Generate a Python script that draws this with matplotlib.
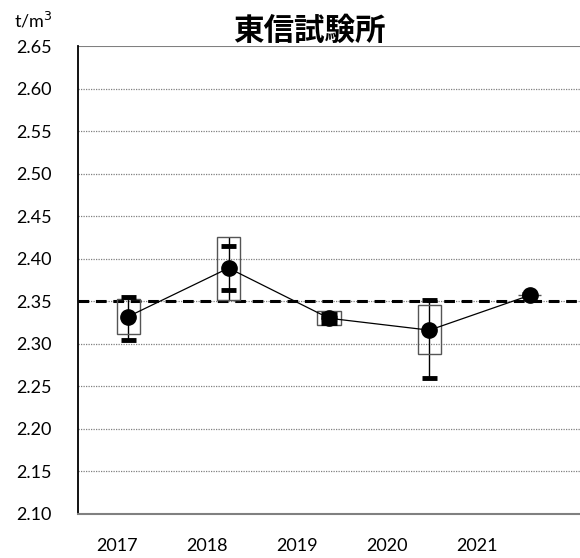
import matplotlib
matplotlib.use("Agg")
import matplotlib.pyplot as plt
import numpy as np

plt.rcParams['font.family'] = ['Lato', 'Noto Sans CJK JP', 'DejaVu Sans']

years = ['2017', '2018', '2019', '2020', '2021']
mean = [2.332, 2.389, 2.330, 2.316, 2.357]
box_hi = [2.353, 2.425, 2.338, 2.345, 2.357]
box_lo = [2.311, 2.352, 2.322, 2.288, 2.357]
cap_hi = [2.355, 2.415, 2.335, 2.351, 2.358]
cap_lo = [2.305, 2.363, 2.325, 2.260, 2.356]
reference = 2.35

fig = plt.figure(figsize=(5.8, 5.58), dpi=100)
ax = fig.add_axes([0.1345, 0.079, 0.8655, 0.8385])

x = np.arange(len(years))
ax.set_xlim(-0.5, len(years) - 0.5)
ax.set_ylim(2.10, 2.65)

# horizontal grid
for v in np.arange(2.15, 2.649, 0.05):
    ax.axhline(v, color='#808080', lw=0.9, ls=(0, (1, 1)), zorder=0)
ax.axhline(2.65, color='#808080', lw=1.5, zorder=0)

# reference line
ax.axhline(reference, color='black', lw=2.2, ls=(0, (3.5, 2.2)), zorder=2)

# boxes, whiskers and caps
bw = 0.23
cw = 0.15
for i in x:
    lo = min(box_lo[i], cap_lo[i])
    hi = max(box_hi[i], cap_hi[i])
    ax.vlines(i, lo, hi, color='black', lw=1.0, zorder=3)
    ax.add_patch(plt.Rectangle((i - bw / 2, box_lo[i]), bw, box_hi[i] - box_lo[i],
                               facecolor='none', edgecolor='#555555', lw=1.0, zorder=3))
    ax.hlines([cap_lo[i], cap_hi[i]], i - cw / 2, i + cw / 2, color='black', lw=3.5, zorder=3)

ax.plot(x, mean, color='black', lw=0.9, marker='o', ms=11, zorder=4)

# axes styling
for s in ['top', 'right']:
    ax.spines[s].set_visible(False)
ax.spines['left'].set_linewidth(1.3)
ax.spines['bottom'].set_color('#808080')
ax.spines['bottom'].set_linewidth(1.5)

ax.set_yticks(np.arange(2.10, 2.651, 0.05))
ax.set_yticklabels([f'{v:.2f}' for v in np.arange(2.10, 2.651, 0.05)], fontsize=13)
ax.tick_params(axis='y', length=0, pad=19)

ax.set_xticks(-0.11 + 0.895 * x)
ax.set_xticklabels(years, fontsize=13)
ax.tick_params(axis='x', length=0, pad=17)

fig.text(0.533, 0.945, '東信試験所', fontsize=22, fontweight='bold', ha='center', va='center',
         family=['Noto Sans CJK JP'])
fig.text(0.058, 0.963, 't/m$^3$', fontsize=13, ha='center', va='center')

fig.savefig('out.png', dpi=100)
